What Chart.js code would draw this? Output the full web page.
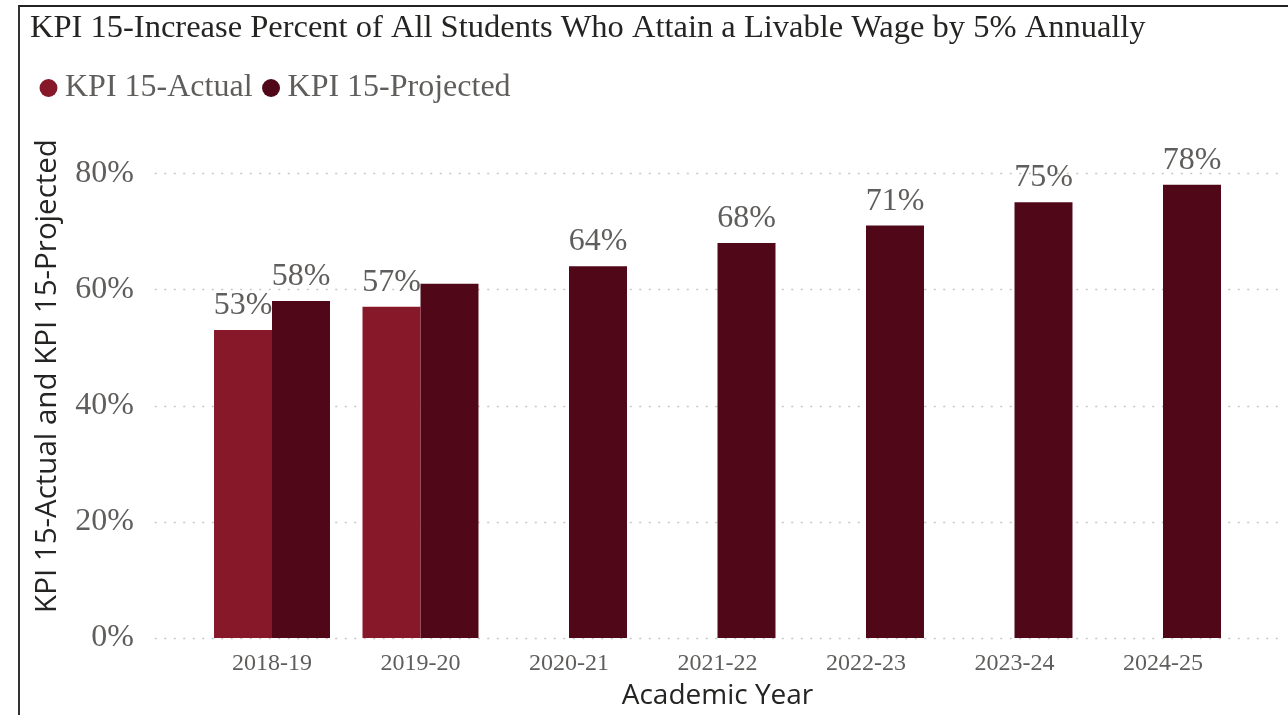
<!DOCTYPE html>
<html>
<head>
<meta charset="utf-8">
<script src="https://cdn.jsdelivr.net/npm/chart.js@4/dist/chart.umd.min.js"></script>
<style>
html, body { margin: 0; padding: 0; background: #ffffff; width: 1288px; height: 715px; overflow: hidden; }
#wrap { position: relative; width: 1288px; height: 715px; }
#frame { position: absolute; left: 18px; top: 5px; right: -4px; bottom: -4px; border-left: 2px solid #333333; border-top: 2px solid #222222; }
#c { position: absolute; left: 0; top: 0; }
</style>
</head>
<body>
<div id="wrap">
  <div id="frame"></div>
  <canvas id="c" width="1288" height="715"></canvas>
</div>
<script>
const chartTitle = 'KPI 15-Increase Percent of All Students Who Attain a Livable Wage by 5% Annually';
const categories = ['2018-19', '2019-20', '2020-21', '2021-22', '2022-23', '2023-24', '2024-25'];
const actualLabel = 'KPI 15-Actual';
const projectedLabel = 'KPI 15-Projected';
const actualValues = [0.53, 0.57, null, null, null, null, null];
const projectedValues = [0.58, 0.61, 0.64, 0.68, 0.71, 0.75, 0.78];
const yTickValues = [0, 0.2, 0.4, 0.6, 0.8];
const yAxisTitle = 'KPI 15-Actual and KPI 15-Projected';
const xAxisTitle = 'Academic Year';

const SERIF = '"Liberation Serif", "Times New Roman", serif';
const SANS = '"Open Sans", "Noto Sans", sans-serif';
const pct = v => Math.round(v * 100) + '%';

const dottedGrid = {
  id: 'dottedGrid',
  beforeDatasetsDraw(chart) {
    const ys = chart.scales.y;
    const ctx = chart.ctx;
    const a = chart.chartArea;
    ctx.save();
    ctx.strokeStyle = '#C8C6C4';
    ctx.lineWidth = 1.5;
    ctx.setLineDash([2, 7.5]);
    ys.ticks.forEach(t => {
      const py = Math.round(ys.getPixelForValue(t.value)) + 0.5;
      ctx.beginPath();
      ctx.moveTo(a.left - 43, py);
      ctx.lineTo(chart.width - 3, py);
      ctx.stroke();
    });
    ctx.restore();
  }
};

const barLabels = {
  id: 'barLabels',
  afterDatasetsDraw(chart) {
    const ctx = chart.ctx;
    ctx.save();
    ctx.font = '32px ' + SERIF;
    ctx.fillStyle = '#605E5C';
    ctx.textAlign = 'center';
    ctx.textBaseline = 'alphabetic';
    const placed = [];
    chart.data.datasets.forEach((ds, i) => {
      const meta = chart.getDatasetMeta(i);
      meta.data.forEach((bar, j) => {
        const v = ds.data[j];
        if (v === null || v === undefined) return;
        const txt = pct(v);
        const w = ctx.measureText(txt).width;
        const base = bar.y - 16;
        const box = { l: bar.x - w / 2 - 2, r: bar.x + w / 2 + 2, t: base - 27, b: base };
        const hit = placed.some(p => box.l < p.r && box.r > p.l && box.t < p.b && box.b > p.t);
        if (hit) return;
        placed.push(box);
        ctx.fillText(txt, bar.x, base);
      });
    });
    ctx.restore();
  }
};

new Chart(document.getElementById('c'), {
  type: 'bar',
  data: {
    labels: categories,
    datasets: [
      { label: actualLabel, data: actualValues, backgroundColor: '#871829', borderWidth: 0 },
      { label: projectedLabel, data: projectedValues, backgroundColor: '#500818', borderWidth: 0 }
    ]
  },
  options: {
    responsive: false,
    devicePixelRatio: 1,
    animation: false,
    layout: { padding: { left: 30, right: 50.75, top: 0, bottom: 0 } },
    datasets: { bar: { categoryPercentage: 0.781, barPercentage: 1.0 } },
    plugins: {
      title: {
        display: true,
        text: chartTitle,
        align: 'start',
        color: '#252423',
        font: { family: SERIF, size: 32.5, weight: 'normal' },
        padding: { top: 9, bottom: 6 }
      },
      legend: {
        display: true,
        position: 'top',
        align: 'start',
        labels: {
          usePointStyle: true,
          pointStyle: 'circle',
          boxWidth: 1,
          boxHeight: 12.7,
          padding: 18,
          color: '#605E5C',
          font: { family: SERIF, size: 32 }
        }
      },
      tooltip: { enabled: false }
    },
    scales: {
      x: {
        grid: { display: false, drawTicks: false },
        border: { display: false },
        ticks: { color: '#605E5C', font: { family: SERIF, size: 24 }, padding: 11, maxRotation: 0 },
        title: { display: true, text: xAxisTitle, color: '#252423', font: { family: SANS, size: 28 }, padding: { top: 0, bottom: 2 } },
        afterFit(s) { s.height = 77; }
      },
      y: {
        min: 0,
        max: 0.902,
        grid: { display: false, drawTicks: false },
        border: { display: false },
        afterBuildTicks(s) { s.ticks = yTickValues.map(v => ({ value: v })); },
        ticks: { color: '#605E5C', font: { family: SERIF, size: 32 }, padding: 63.75, callback: v => pct(v) },
        title: { display: true, text: yAxisTitle, color: '#252423', font: { family: SANS, size: 29.5 }, padding: { top: 0, bottom: 0 } },
        afterFit(s) { s.width = 167.75; s.paddingTop = 0; s.paddingBottom = 0; }
      }
    }
  },
  plugins: [dottedGrid, barLabels]
});
</script>
</body>
</html>
